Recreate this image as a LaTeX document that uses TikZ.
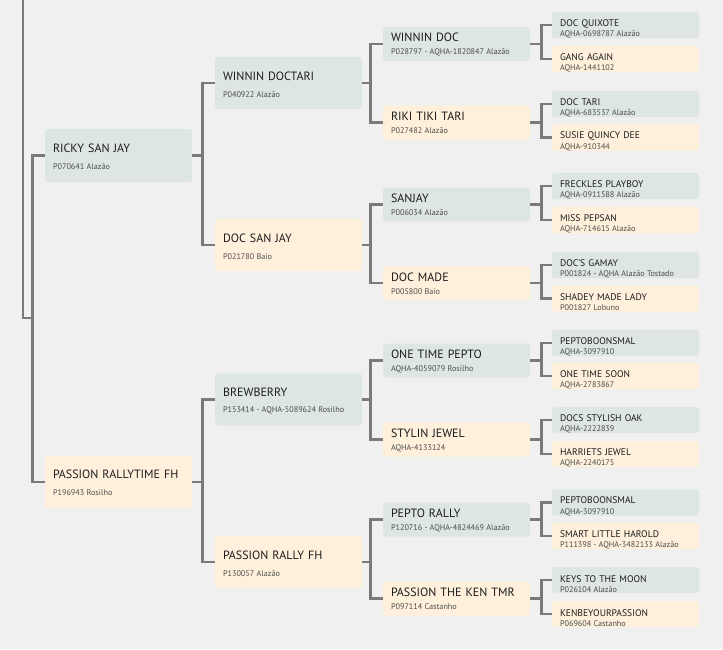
\documentclass[tikz,border=0pt]{standalone}
\usepackage{fontspec}
\setmainfont{PT Sans}
\definecolor{paper}{HTML}{F0F0F0}
\definecolor{sirefill}{HTML}{DDE6E1}
\definecolor{damfill}{HTML}{FFF0DB}
\definecolor{wire}{HTML}{7A7A7A}
\definecolor{ink}{HTML}{1C1C1C}
\definecolor{inkreg}{HTML}{4D4D4D}
\newcommand{\regtxt}{\fontsize{8.2}{9}\selectfont\spaceskip=\fontdimen2\font\relax\color{inkreg}}
\begin{document}
\begin{tikzpicture}[x=1pt, y=-1pt,
horse/.style={rectangle, rounded corners=3pt, inner xsep=8pt, inner ysep=0pt, text width=131pt, align=left, text=ink},
sire/.style={horse, fill=sirefill},
dam/.style={horse, fill=damfill},
gen1/.style={minimum height=53pt, font=\fontsize{12}{9}\selectfont, execute at begin node=\rule{0pt}{10.6pt}},
gen2/.style={minimum height=52pt, font=\fontsize{12}{9}\selectfont, execute at begin node=\rule{0pt}{11.6pt}},
gen3/.style={minimum height=34pt, font=\fontsize{12}{9}\selectfont, execute at begin node=\rule{0pt}{10pt}},
gen4/.style={minimum height=26pt, font=\fontsize{9.6}{9}\selectfont, execute at begin node=\rule{0pt}{14.5pt}},
elbow/.style={to path={(\tikztostart.east) -- ++(#1,0) |- (\tikztotarget.west)}},
elbow/.default=10,
every edge/.style={draw=wire, line width=2.8pt}]
\fill[paper] (0,0) rectangle (723,649);
\useasboundingbox (0,0) rectangle (723,649);
% first generation
\node [sire,gen1](ricky) at (118.5,155.5) {RICKY SAN JAY\\[7.6pt]\regtxt P070641 Alazão};
\node [dam,gen1](passionrt) at (118.5,482) {PASSION RALLYTIME FH\\[7.6pt]\regtxt P196943 Rosilho};
% second generation
\node [sire,gen2](winnindoctari) at (288.5,83) {WINNIN DOCTARI\\[7.6pt]\regtxt P040922 Alazão};
\node [dam,gen2](docsanjay) at (288.5,245) {DOC SAN JAY\\[7.6pt]\regtxt P021780 Baio};
\node [sire,gen2](brewberry) at (288.5,399.5) {BREWBERRY\\[7.6pt]\regtxt P153414 - AQHA-5089624 Rosilho};
\node [dam,gen2](passionrally) at (288.5,562) {PASSION RALLY FH\\[7.6pt]\regtxt P130057 Alazão};
% third generation
\node [sire,gen3](winnindoc) at (456.5,44) {WINNIN DOC\\[4pt]\regtxt P028797 - AQHA-1820847 Alazão};
\node [dam,gen3](riki) at (456.5,122.5) {RIKI TIKI TARI\\[4pt]\regtxt P027482 Alazão};
\node [sire,gen3](sanjay) at (456.5,204.5) {SANJAY\\[4pt]\regtxt P006034 Alazão};
\node [dam,gen3](docmade) at (456.5,283) {DOC MADE\\[4pt]\regtxt P005800 Baio};
\node [sire,gen3](onetimepepto) at (456.5,360.5) {ONE TIME PEPTO\\[4pt]\regtxt AQHA-4059079 Rosilho};
\node [dam,gen3](stylin) at (456.5,439.5) {STYLIN JEWEL\\[4pt]\regtxt AQHA-4133124};
\node [sire,gen3](peptorally) at (456.5,519.5) {PEPTO RALLY\\[4pt]\regtxt P120716 - AQHA-4824469 Alazão};
\node [dam,gen3](kentmr) at (456.5,598.5) {PASSION THE KEN TMR\\[4pt]\regtxt P097114 Castanho};
% fourth generation
\node [sire,gen4](quixote) at (625.5,25) {DOC QUIXOTE\\[1.2pt]\regtxt AQHA-0698787 Alazão};
\node [dam,gen4](gang) at (625.5,59) {GANG AGAIN\\[1.2pt]\regtxt AQHA-1441102};
\node [sire,gen4](doctari) at (625.5,104) {DOC TARI\\[1.2pt]\regtxt AQHA-683537 Alazão};
\node [dam,gen4](susie) at (625.5,137.5) {SUSIE QUINCY DEE\\[1.2pt]\regtxt AQHA-910344};
\node [sire,gen4](freckles) at (625.5,186) {FRECKLES PLAYBOY\\[1.2pt]\regtxt AQHA-0911588 Alazão};
\node [dam,gen4](pepsan) at (625.5,220) {MISS PEPSAN\\[1.2pt]\regtxt AQHA-714615 Alazão};
\node [sire,gen4](gamay) at (625.5,265) {DOC'S GAMAY\\[1.2pt]\regtxt P001824 - AQHA Alazão Tostado};
\node [dam,gen4](shadey) at (625.5,298.5) {SHADEY MADE LADY\\[1.2pt]\regtxt P001827 Lobuno};
\node [sire,gen4](peptoA) at (625.5,343) {PEPTOBOONSMAL\\[1.2pt]\regtxt AQHA-3097910};
\node [dam,gen4](timesoon) at (625.5,376) {ONE TIME SOON\\[1.2pt]\regtxt AQHA-2783867};
\node [sire,gen4](stylishoak) at (625.5,420) {DOCS STYLISH OAK\\[1.2pt]\regtxt AQHA-2222839};
\node [dam,gen4](harriets) at (625.5,454) {HARRIETS JEWEL\\[1.2pt]\regtxt AQHA-2240175};
\node [sire,gen4](peptoB) at (625.5,502.5) {PEPTOBOONSMAL\\[1.2pt]\regtxt AQHA-3097910};
\node [dam,gen4](harold) at (625.5,536) {SMART LITTLE HAROLD\\[1.2pt]\regtxt P111398 - AQHA-3482133 Alazão};
\node [sire,gen4](keys) at (625.5,580) {KEYS TO THE MOON\\[1.2pt]\regtxt P026104 Alazão};
\node [dam,gen4](kenbey) at (625.5,614) {KENBEYOURPASSION\\[1.2pt]\regtxt P069604 Castanho};
% root line
\coordinate (top) at (23,0);
\node [inner sep=0pt,minimum size=0pt](root) at (23,318) {};
\draw [draw=wire,line width=2.8pt] (top) -- (root.center) -- ++(9,0);
\path
	(root) edge [elbow=9] (ricky)
	       edge [elbow=9] (passionrt)
	(ricky) edge [elbow] (winnindoctari)
	        edge [elbow] (docsanjay)
	(passionrt) edge [elbow] (brewberry)
	            edge [elbow] (passionrally)
	(winnindoctari) edge [elbow=8] (winnindoc)
	                edge [elbow=8] (riki)
	(docsanjay) edge [elbow=8] (sanjay)
	            edge [elbow=8] (docmade)
	(brewberry) edge [elbow=8] (onetimepepto)
	            edge [elbow=8] (stylin)
	(passionrally) edge [elbow=8] (peptorally)
	               edge [elbow=8] (kentmr)
	(winnindoc) edge [elbow=11] (quixote)
	            edge [elbow=11] (gang)
	(riki) edge [elbow=11] (doctari)
	       edge [elbow=11] (susie)
	(sanjay) edge [elbow=11] (freckles)
	         edge [elbow=11] (pepsan)
	(docmade) edge [elbow=11] (gamay)
	          edge [elbow=11] (shadey)
	(onetimepepto) edge [elbow=11] (peptoA)
	               edge [elbow=11] (timesoon)
	(stylin) edge [elbow=11] (stylishoak)
	         edge [elbow=11] (harriets)
	(peptorally) edge [elbow=11] (peptoB)
	             edge [elbow=11] (harold)
	(kentmr) edge [elbow=11] (keys)
	         edge [elbow=11] (kenbey)
	;
\end{tikzpicture}
\end{document}
